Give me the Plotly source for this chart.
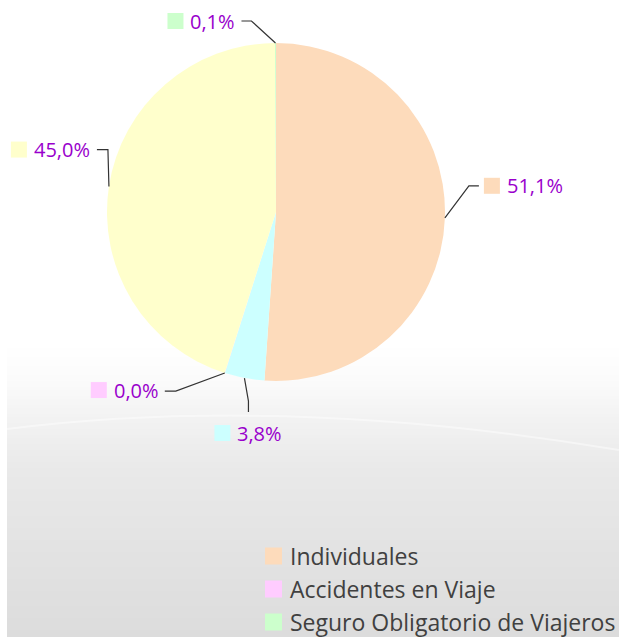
import math
import plotly.graph_objects as go

# ---------------- data ----------------
labels = ["Individuales", "Colectivos", "Accidentes en Viaje", "Otros", "Seguro Obligatorio de Viajeros"]
values = [51.1, 3.8, 0.02, 45.0, 0.1]
colors = ["#FDDBBB", "#CCFFFF", "#FFCCFF", "#FFFFCC", "#CCFFCC"]
legend_items = [0, 2, 4]  # visible (left) legend column

# ---------------- layout constants (screen px) ----------------
W, H = 619, 637
BG_LEFT = 7
CX, CY, R = 276, 212, 169
LABEL_COLOR = "#9900CC"
FONT = "Open Sans"

# leader style per slice: (elbow dx, dy from edge point), (end dx, dy from elbow), (marker dx, dy from end)
leader_style = [
    ((24, -32), (10, 0), (5, 0)),
    ((4, 23), (0, 11), (-34, 21)),
    ((-49, 18), (-11, 0), (-74, -1)),
    ((-1, -37), (-11, 0), (-86, 0)),
    ((-24, -22), (-10, 0), (-74, 0)),
]
MS = 16  # label marker size


def P(x, y):
    return x / W, 1 - y / H


fig = go.Figure()

# background gradient bands
shapes = []
y0 = 345
stops = [(345, 255), (380, 251), (420, 242), (470, 233), (637, 220)]


def gray(y):
    for (ya, ga), (yb, gb) in zip(stops, stops[1:]):
        if ya <= y <= yb:
            g = ga + (gb - ga) * (y - ya) / (yb - ya)
            return int(round(g))
    return 220


step = 3
y = y0
while y < H:
    g = gray(y + step / 2)
    xa, ya_ = P(BG_LEFT, y)
    xb, yb_ = P(W, min(y + step, H))
    shapes.append(dict(type="rect", xref="paper", yref="paper", x0=xa, x1=xb, y0=yb_, y1=ya_,
                       fillcolor=f"rgb({g},{g},{g})", line=dict(width=0), layer="below"))
    y += step

# faint white arc
ax0, ay0 = P(BG_LEFT, 429)
acx, acy = P(287, 394)
ax1, ay1 = P(W, 450)
shapes.append(dict(type="path", xref="paper", yref="paper",
                   path=f"M {ax0},{ay0} Q {acx},{acy} {ax1},{ay1}",
                   line=dict(color="rgba(255,255,255,0.45)", width=2), layer="below"))

# pie
dx0, _ = P(CX - R, 0)
dx1, _ = P(CX + R, 0)
_, dy0 = P(0, CY + R)
_, dy1 = P(0, CY - R)
fig.add_trace(go.Pie(labels=labels, values=values, sort=False, direction="clockwise", rotation=0,
                     marker=dict(colors=colors, line=dict(width=0)), textinfo="none",
                     hoverinfo="label+percent", showlegend=False,
                     domain=dict(x=[dx0, dx1], y=[dy0, dy1])))

# labels with leader lines
total = sum(values)
annotations = []
cum = 0.0
for i, v in enumerate(values):
    mid = (cum + v / 2) / total * 2 * math.pi
    cum += v
    ex = CX + R * math.sin(mid)
    ey = CY - R * math.cos(mid)
    (edx, edy), (ndx, ndy), (mdx, mdy) = leader_style[i]
    bx, by = ex + edx, ey + edy
    tx, ty = bx + ndx, by + ndy
    p0, p1, p2 = P(ex, ey), P(bx, by), P(tx, ty)
    shapes.append(dict(type="path", xref="paper", yref="paper",
                       path=f"M {p0[0]},{p0[1]} L {p1[0]},{p1[1]} L {p2[0]},{p2[1]}",
                       line=dict(color="#333333", width=1.2)))
    mx, my = tx + mdx, ty + mdy
    r0 = P(mx, my - MS / 2)
    r1 = P(mx + MS, my + MS / 2)
    shapes.append(dict(type="rect", xref="paper", yref="paper", x0=r0[0], x1=r1[0], y0=r1[1], y1=r0[1],
                       fillcolor=colors[i], line=dict(width=0)))
    pct = v / total * 100
    txt = f"{pct:.1f}%".replace(".", ",")
    tp = P(mx + MS + 5, my)
    annotations.append(dict(x=tp[0], y=tp[1], xref="paper", yref="paper", text=txt, showarrow=False,
                            xanchor="left", yanchor="middle",
                            font=dict(family=FONT, size=20, color=LABEL_COLOR)))

# manual legend (left column)
LX, LY0, LDY, LMS = 265, 556, 33, 17
for row, idx in enumerate(legend_items):
    yy = LY0 + row * LDY
    r0 = P(LX, yy - LMS / 2)
    r1 = P(LX + LMS, yy + LMS / 2)
    shapes.append(dict(type="rect", xref="paper", yref="paper", x0=r0[0], x1=r1[0], y0=r1[1], y1=r0[1],
                       fillcolor=colors[idx], line=dict(width=0)))
    tp = P(LX + LMS + 6, yy)
    annotations.append(dict(x=tp[0], y=tp[1], xref="paper", yref="paper", text=labels[idx], showarrow=False,
                            xanchor="left", yanchor="middle",
                            font=dict(family=FONT, size=23, color="#404040")))

fig.update_layout(width=W, height=H, margin=dict(l=0, r=0, t=0, b=0),
                  paper_bgcolor="white", plot_bgcolor="white",
                  shapes=shapes, annotations=annotations, showlegend=False)

fig.write_html("out.html", config={"displayModeBar": False},
               post_script="document.body.style.margin='0';document.body.style.overflow='hidden';")
